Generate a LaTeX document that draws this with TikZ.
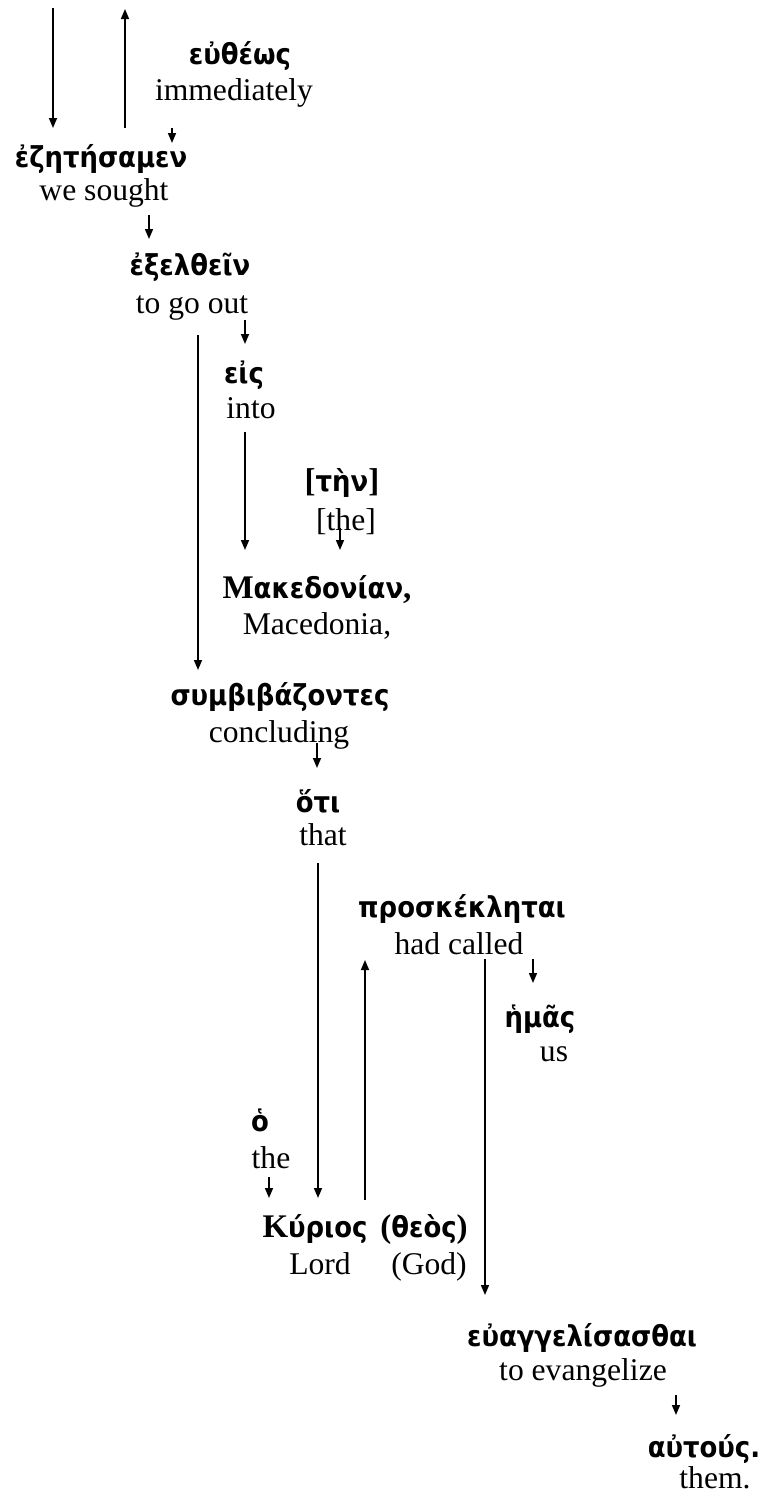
\documentclass[tikz,border=0pt]{standalone}
\usepackage{fontspec}
\setmainfont{Liberation Serif}
\newfontfamily\grkfont{DejaVu Sans}[BoldFont={DejaVu Sans Bold},FakeStretch=0.9]
\usetikzlibrary{arrows.meta,calc}

% Greek words (bold sans), capitals and punctuation in bold serif
\newcommand{\sr}[1]{{\rmfamily\bfseries\fontsize{16.5}{19}\selectfont #1}}
\tikzset{
  gr/.style={anchor=base, inner sep=0pt, font=\grkfont\bfseries\fontsize{14.4}{17}\selectfont},
  en/.style={anchor=base, inner sep=0pt, font=\fontsize{15.8}{19}\selectfont},
  arr/.style={-{Triangle[width=4pt,length=5pt]}, line width=0.8pt},
}

\begin{document}
\begin{tikzpicture}[x=0.5pt,y=-0.5pt]
\useasboundingbox (0,0) rectangle (763,1495);

% words: Greek above, English gloss below
\node[gr] (eutheos) at (240,64) {εὐθέως};
\node[en] (immediately) at (234,100) {immediately};
\node[gr] (ezet) at (101,167) {ἐζητήσαμεν};
\node[en] (wesought) at (104,200) {we sought};
\node[gr] (exel) at (190,275) {ἐξελθεῖν};
\node[en] (togoout) at (192,313) {to go out};
\node[gr] (eis) at (244,383) {εἰς};
\node[en] (into) at (251,418) {into};
\node[gr] (ten) at (342,491) {\sr{[}τὴν\sr{]}};
\node[en] (the1) at (346,530) {[the]};
\node[gr] (maked) at (317,598) {\sr{Μ}ακεδονίαν\sr{,}};
\node[en] (macedonia) at (317,634) {Macedonia,};
\node[gr] (symb) at (280,705) {συμβιβάζοντες};
\node[en] (concluding) at (279,742) {concluding};
\node[gr] (oti) at (318,812) {ὅτι};
\node[en] (that) at (323,845) {that};
\node[gr] (prosk) at (462,917) {προσκέκληται};
\node[en] (hadcalled) at (459,954) {had called};
\node[gr] (hemas) at (540,1027) {ἡμᾶς};
\node[en] (us) at (554,1061) {us};
\node[gr] (ho) at (260,1131) {ὁ};
\node[en] (the2) at (271,1168) {the};
\node[gr] (kyrios) at (315,1237) {\sr{Κ}ύριος};
\node[gr] (theos) at (424,1237) {\sr{(}θεὸς\sr{)}};
\node[en] (lord) at (320,1274) {Lord};
\node[en] (god) at (429,1274) {(God)};
\node[gr] (euang) at (582,1346) {εὐαγγελίσασθαι};
\node[en] (toevang) at (583,1380) {to evangelize};
\node[gr] (autous) at (704,1457) {αὐτούς.};
\node[en] (them) at (715,1488) {them.};

% open ends at the top edge
\coordinate (topL) at (53,8);
\coordinate (topR) at (125,9);

% connectors
\draw[arr] (topL) -- ($(ezet.base)+(-48,-39)$);
\draw[arr] ($(ezet.base)+(24,-39)$) -- (topR);
\draw[arr] ($(immediately.base)+(-62,28)$) -- ($(ezet.base)+(71,-24)$);
\draw[arr] ($(wesought.base)+(45,15)$) -- ($(exel.base)+(-41,-36)$);
\draw[arr] ($(togoout.base)+(53,7)$) -- ($(eis.base)+(1,-39)$);
\draw[arr] ($(togoout.base)+(6,22)$) -- ($(symb.base)+(-82,-35)$);
\draw[arr] ($(into.base)+(-6,14)$) -- ($(maked.base)+(-72,-48)$);
\draw[arr] ($(the1.base)+(-6,-2)$) -- ($(maked.base)+(23,-48)$);
\draw[arr] ($(concluding.base)+(38,1)$) -- ($(oti.base)+(-1,-44)$);
\draw[arr] ($(that.base)+(-5,18)$) -- ($(kyrios.base)+(3,-39)$);
\draw[arr] ($(kyrios.base)+(50,-37)$) -- ($(hadcalled.base)+(-94,6)$);
\draw[arr] ($(hadcalled.base)+(26,5)$) -- ($(euang.base)+(-97,-51)$);
\draw[arr] ($(hadcalled.base)+(74,5)$) -- ($(hemas.base)+(-7,-44)$);
\draw[arr] ($(the2.base)+(-2,9)$) -- ($(kyrios.base)+(-46,-39)$);
\draw[arr] ($(toevang.base)+(93,15)$) -- ($(autous.base)+(-28,-42)$);
\end{tikzpicture}
\end{document}
